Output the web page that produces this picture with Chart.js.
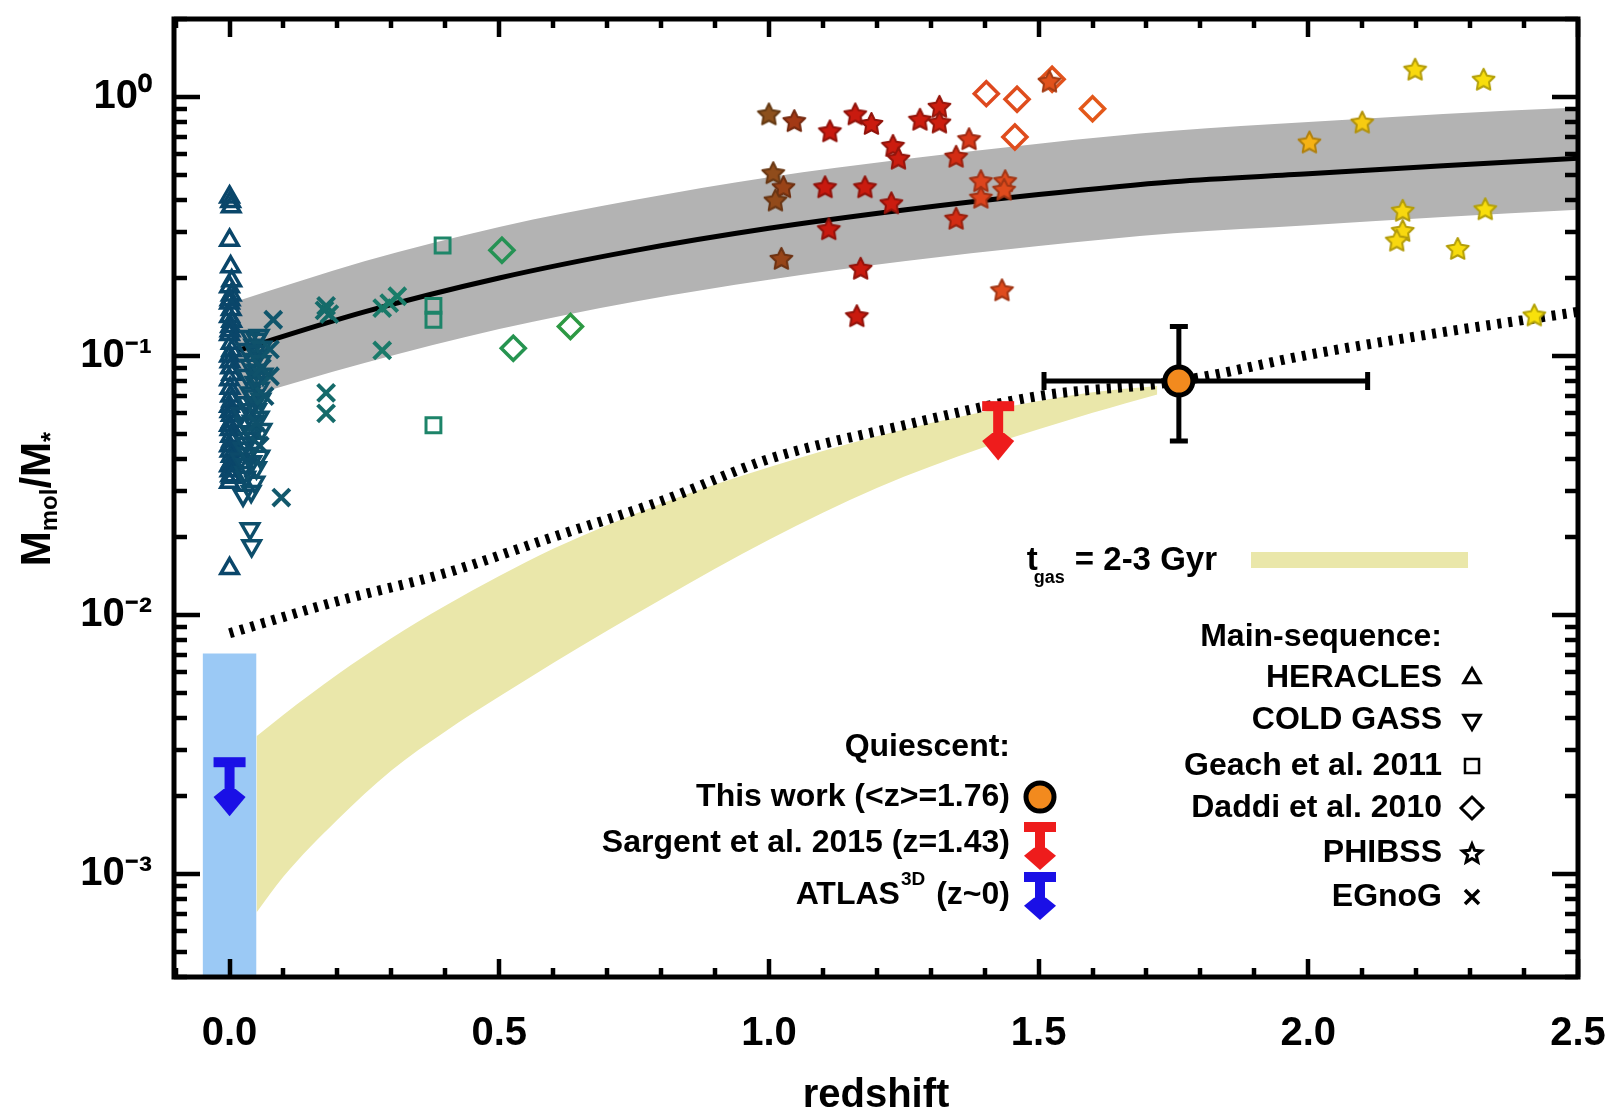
<!DOCTYPE html>
<html><head><meta charset="utf-8"><title>Mmol/M* versus redshift</title>
<script src="https://cdn.jsdelivr.net/npm/chart.js@4.4.1/dist/chart.umd.min.js"></script>
<style>html,body{margin:0;padding:0;background:#fff;}canvas{display:block;}</style>
</head><body>
<canvas id="chart" width="1616" height="1112"></canvas>
<script>
// ---------------- data ----------------
const xTickValues = [0, 0.5, 1.0, 1.5, 2.0, 2.5];
const xTickLabels = ['0.0', '0.5', '1.0', '1.5', '2.0', '2.5'];
const yTickValues = [0.001, 0.01, 0.1, 1];
const yTickLabels = ['10\u207B\u00B3', '10\u207B\u00B2', '10\u207B\u00B9', '10\u2070'];

// Main-sequence samples (z, Mmol/M*)
const heraclesZ = [0.000,0.003,0.000,0.002,0.000,0.003,0.000,0.003,0.000,0.002,0.000,0.003,0.000,0.002,0.000,0.002,0.000,0.003,0.000,0.002,0.000,0.003,0.000,0.002,0.000,0.000,0.002,
                   0.004,0.001,0.004,0.001,0.004,0.001,0.004,0.001,0.004,0.001,0.004,0.001,0.004,0.001,0.004,0.001,0.004];
const heraclesF = [0.411,0.377,0.280,0.221,0.185,0.172,0.160,0.151,0.142,0.130,0.121,0.112,0.100,0.090,0.081,0.070,0.064,0.059,0.054,0.049,0.045,0.041,0.0377,0.0345,0.0325,0.0151,0.395,
                   0.195,0.165,0.136,0.125,0.105,0.095,0.085,0.075,0.067,0.061,0.056,0.052,0.047,0.043,0.039,0.036,0.034];

const coldGassZ = [0.038,0.050,0.032,0.043,0.038,0.032,0.047,0.038,0.032,0.022,0.028,0.038,0.047,0.025,0.056,0.041,0.028,0.047,0.025,0.038,0.041,0.045,0.052,0.050,0.055,0.045,0.055,0.060,0.035,0.050,0.030,
                   0.055,0.060,0.048,0.058,0.062,0.050,0.045,0.058,0.050,0.042,0.035,0.043,0.030,0.020,0.033,0.040,0.030];
const coldGassF = [0.119,0.116,0.106,0.097,0.092,0.084,0.079,0.072,0.066,0.060,0.055,0.051,0.046,0.044,0.041,0.039,0.0355,0.0325,0.029,0.0215,0.0185,0.110,0.100,0.088,0.075,0.065,0.058,0.052,0.048,0.037,0.034,
                   0.120,0.108,0.104,0.095,0.085,0.082,0.070,0.068,0.062,0.056,0.062,0.050,0.046,0.040,0.042,0.030,0.038];

const egnogZ = [0.081,0.075,0.075,0.065,0.056,0.096,0.179,0.185,0.176,0.179,0.179,0.283,0.296,0.311,0.283,0.060,0.050];
const egnogF = [0.138,0.106,0.0835,0.070,0.045,0.0284,0.156,0.145,0.150,0.072,0.060,0.153,0.160,0.170,0.105,0.090,0.055];

const geachZ = [0.395,0.378,0.378,0.378];
const geachF = [0.267,0.156,0.138,0.054];

const daddiZ = [0.505,0.526,0.632,1.403,1.460,1.600,1.456,1.525];
const daddiF = [0.256,0.107,0.130,1.03,0.98,0.90,0.70,1.17];

const phibssZ = [1.000,1.047,1.113,1.160,1.190,1.230,1.240,1.280,1.316,1.316,1.347,1.371,1.008,1.027,1.012,1.104,1.178,1.227,1.111,1.347,1.393,1.393,1.438,1.436,1.023,1.170,1.163,1.432,1.520,2.198,2.325,2.002,2.100,2.175,2.328,2.175,2.164,2.277,2.419];
const phibssF = [0.86,0.81,0.74,0.86,0.79,0.65,0.58,0.82,0.92,0.80,0.59,0.69,0.51,0.45,0.40,0.45,0.45,0.39,0.31,0.34,0.475,0.41,0.475,0.44,0.238,0.218,0.143,0.18,1.15,1.28,1.17,0.67,0.80,0.365,0.37,0.305,0.28,0.26,0.144];

// Main-sequence relation and its scatter (grey band)
const msZ     = [0.015, 0.25, 0.5, 0.75, 1.0, 1.25, 1.5, 1.75, 2.0, 2.25, 2.5];
const msF     = [0.105, 0.148, 0.200, 0.255, 0.311, 0.366, 0.420, 0.471, 0.505, 0.543, 0.580];
const msUpper = [0.163, 0.232, 0.315, 0.400, 0.490, 0.575, 0.660, 0.740, 0.800, 0.860, 0.910];
const msLower = [0.068, 0.094, 0.127, 0.162, 0.197, 0.232, 0.266, 0.298, 0.320, 0.344, 0.367];

// Dotted curve
const dotZ = [0.0, 0.2, 0.4, 0.6, 0.8, 1.0, 1.25, 1.5, 1.76, 2.0, 2.2, 2.5];
const dotF = [0.0085, 0.0113, 0.0145, 0.020, 0.0275, 0.040, 0.054, 0.070, 0.080, 0.101, 0.119, 0.148];

// t_gas = 2-3 Gyr band
const tgasZ     = [0.05, 0.1, 0.2, 0.3, 0.4, 0.5, 0.6, 0.8, 1.0, 1.2, 1.4, 1.6, 1.72];
const tgasUpper = [0.0034, 0.00412, 0.00589, 0.00813, 0.01084, 0.01413, 0.0180, 0.0269, 0.0372, 0.049, 0.061, 0.0724, 0.0766];
const tgasLower = [0.00071, 0.000977, 0.00162, 0.00251, 0.00355, 0.00484, 0.00653, 0.01148, 0.0195, 0.0309, 0.0445, 0.0603, 0.0710];

// ATLAS3D range box (z ~ 0)
const atlasBoxZ = [-0.05, 0.05];
const atlasBoxTop = 0.0071;

// Quiescent: this work (<z>=1.76) with error bars
const thisWorkZ = 1.76, thisWorkF = 0.080;
const thisWorkZRange = [1.51, 2.11];
const thisWorkFRange = [0.047, 0.130];

// Upper limits: Sargent et al. 2015 (z=1.43), ATLAS3D (z~0)
const limitNames = ['Sargent et al. 2015', 'ATLAS3D'];
const limitZ   = [1.425, 0.0];
const limitF   = [0.064, 0.0027];
const limitTip = [0.0395, 0.00167];

// ---------------- helpers ----------------
const FONT = '"Liberation Sans", Arial, Helvetica, sans-serif';
function zip(xs, ys) { const n = Math.min(xs.length, ys.length); const o = []; for (let i = 0; i < n; i++) o.push({x: xs[i], y: ys[i]}); return o; }

// colour code by redshift (style only)
const zStops = [
  [0.00, [10, 70, 106]], [0.10, [18, 90, 108]], [0.20, [22, 112, 105]], [0.40, [30, 135, 105]],
  [0.55, [40, 150, 75]], [0.70, [50, 155, 60]], [0.99, [135, 85, 30]], [1.05, [165, 55, 20]],
  [1.10, [200, 25, 15]], [1.32, [205, 30, 15]], [1.40, [222, 72, 30]], [1.65, [228, 92, 25]],
  [2.00, [245, 178, 20]], [2.15, [248, 215, 15]], [2.50, [248, 228, 10]]
];
function zRGB(z) {
  if (z <= zStops[0][0]) return zStops[0][1];
  for (let i = 1; i < zStops.length; i++) {
    if (z <= zStops[i][0]) {
      const a = zStops[i - 1], b = zStops[i], t = (z - a[0]) / (b[0] - a[0]);
      return a[1].map((v, k) => Math.round(v + (b[1][k] - v) * t));
    }
  }
  return zStops[zStops.length - 1][1];
}
function zColor(ctx) { const z = ctx && ctx.raw ? ctx.raw.x : 0; const c = zRGB(z); return `rgb(${c[0]},${c[1]},${c[2]})`; }

const starCache = {};
function starImage(fill, stroke, R) {
  const key = fill + '|' + stroke + '|' + R;
  if (starCache[key]) return starCache[key];
  const s = Math.ceil(R * 2 + 6);
  const cv = document.createElement('canvas'); cv.width = s; cv.height = s;
  const g = cv.getContext('2d');
  const cx = s / 2, cy = s / 2 + 1;
  g.beginPath();
  for (let i = 0; i < 10; i++) {
    const r = i % 2 === 0 ? R : R * 0.5;
    const a = -Math.PI / 2 + i * Math.PI / 5;
    const px = cx + r * Math.cos(a), py = cy + r * Math.sin(a);
    if (i) g.lineTo(px, py); else g.moveTo(px, py);
  }
  g.closePath();
  g.fillStyle = fill; g.fill();
  g.lineWidth = 2; g.lineJoin = 'round'; g.strokeStyle = stroke; g.stroke();
  starCache[key] = cv; return cv;
}
function starStyle(ctx) {
  const z = ctx && ctx.raw ? ctx.raw.x : 1.2;
  const c = zRGB(z);
  const fill = `rgb(${c[0]},${c[1]},${c[2]})`;
  const stroke = `rgb(${Math.round(c[0] * 0.72)},${Math.round(c[1] * 0.72)},${Math.round(c[2] * 0.72)})`;
  return starImage(fill, stroke, 11.5);
}

function drawLimitSymbol(c, x, yb, yt, color) {
  const head = yb + (yt - yb) * 0.55;
  c.fillStyle = color;
  c.fillRect(x - 16, yb - 5, 32, 10);
  c.fillRect(x - 5, yb, 10, head - yb + 2);
  c.beginPath();
  c.moveTo(x - 6, head - 3);
  c.lineTo(x - 16, head + 5);
  c.lineTo(x, yt);
  c.lineTo(x + 16, head + 5);
  c.lineTo(x + 6, head - 3);
  c.closePath();
  c.fill();
}

// ---------------- plugins ----------------
const errorBarPlugin = {
  id: 'errorBars',
  beforeDatasetDraw(chart, args) {
    if (args.index !== 0) return;
    const {ctx: c, scales: {x, y}} = chart;
    const px = x.getPixelForValue(thisWorkZ), py = y.getPixelForValue(thisWorkF);
    const x0 = x.getPixelForValue(thisWorkZRange[0]), x1 = x.getPixelForValue(thisWorkZRange[1]);
    const y0 = y.getPixelForValue(thisWorkFRange[0]), y1 = y.getPixelForValue(thisWorkFRange[1]);
    c.save(); c.strokeStyle = '#000'; c.lineWidth = 5; c.lineCap = 'butt';
    c.beginPath();
    c.moveTo(x0, py); c.lineTo(x1, py);
    c.moveTo(x0, py - 9); c.lineTo(x0, py + 9);
    c.moveTo(x1, py - 9); c.lineTo(x1, py + 9);
    c.moveTo(px, y0); c.lineTo(px, y1);
    c.moveTo(px - 9, y0); c.lineTo(px + 9, y0);
    c.moveTo(px - 9, y1); c.lineTo(px + 9, y1);
    c.stroke(); c.restore();
  }
};

const limitColors = ['#ee1c1c', '#1a10e6'];
const limitPlugin = {
  id: 'upperLimits',
  afterDatasetsDraw(chart) {
    const {ctx: c, scales: {x, y}} = chart;
    c.save();
    for (let i = 0; i < limitZ.length; i++) {
      drawLimitSymbol(c, x.getPixelForValue(limitZ[i]), y.getPixelForValue(limitF[i]), y.getPixelForValue(limitTip[i]), limitColors[i]);
    }
    c.restore();
  }
};

const framePlugin = {
  id: 'frame',
  afterDraw(chart) {
    const {ctx: c, chartArea: a, scales: {x, y}} = chart;
    c.save(); c.strokeStyle = '#000'; c.lineCap = 'butt'; c.lineWidth = 4.5;
    c.beginPath();
    for (let k = -1; k <= 25; k++) {
      const v = k / 10;
      if (v <= x.min || v > x.max) continue;
      const px = Math.round(x.getPixelForValue(v));
      const L = (k % 5 === 0) ? 18 : 9;
      c.moveTo(px, a.bottom); c.lineTo(px, a.bottom - L);
      c.moveTo(px, a.top); c.lineTo(px, a.top + L);
    }
    for (let e = -4; e <= 0; e++) {
      for (let m = 1; m <= 9; m++) {
        const v = m * Math.pow(10, e);
        if (v < y.min || v > y.max) continue;
        const py = Math.round(y.getPixelForValue(v));
        const L = m === 1 ? 26 : 13;
        c.moveTo(a.left, py); c.lineTo(a.left + L, py);
        c.moveTo(a.right, py); c.lineTo(a.right - L, py);
      }
    }
    c.stroke();
    c.lineWidth = 5;
    c.strokeRect(a.left, a.top, a.right - a.left, a.bottom - a.top);
    c.restore();
  }
};

function legendMarker(c, kind, x, y) {
  c.save(); c.strokeStyle = '#000'; c.fillStyle = '#000'; c.lineWidth = 3; c.lineJoin = 'miter';
  c.beginPath();
  if (kind === 'tri' || kind === 'itri') {
    const s = kind === 'tri' ? 1 : -1, r = 9.5;
    c.moveTo(x, y - s * r);
    c.lineTo(x + r * 0.866, y + s * r * 0.5);
    c.lineTo(x - r * 0.866, y + s * r * 0.5);
    c.closePath(); c.stroke();
  } else if (kind === 'sq') {
    c.lineWidth = 2.5; c.strokeRect(x - 7, y - 7, 14, 14);
  } else if (kind === 'dia') {
    c.moveTo(x, y - 11); c.lineTo(x + 11, y); c.lineTo(x, y + 11); c.lineTo(x - 11, y); c.closePath(); c.stroke();
  } else if (kind === 'star') {
    for (let i = 0; i < 10; i++) {
      const r = i % 2 === 0 ? 10 : 4.5; const a = -Math.PI / 2 + i * Math.PI / 5;
      if (i) c.lineTo(x + r * Math.cos(a), y + 1 + r * Math.sin(a)); else c.moveTo(x + r * Math.cos(a), y + 1 + r * Math.sin(a));
    }
    c.closePath(); c.lineWidth = 3; c.stroke();
  } else if (kind === 'x') {
    c.lineWidth = 3.5; c.moveTo(x - 7, y - 7); c.lineTo(x + 7, y + 7); c.moveTo(x + 7, y - 7); c.lineTo(x - 7, y + 7); c.stroke();
  }
  c.restore();
}

const decorPlugin = {
  id: 'decor',
  afterDraw(chart) {
    const c = chart.ctx;
    c.save();
    c.fillStyle = '#000';
    // y-axis title  M_mol / M_*
    c.save();
    c.translate(38, 499); c.rotate(-Math.PI / 2);
    c.textBaseline = 'alphabetic'; c.textAlign = 'left';
    const parts = [['M', 'bold 42px ' + FONT, 0], ['mol', 'bold 24px ' + FONT, 7], ['/M', 'bold 42px ' + FONT, 0], ['*', 'bold 26px ' + FONT, 9]];
    let tot = 0; parts.forEach(p => { c.font = p[1]; tot += c.measureText(p[0]).width; });
    let u = -tot / 2;
    parts.forEach(p => { c.font = p[1]; c.fillText(p[0], u, 12 + p[2]); u += c.measureText(p[0]).width; });
    c.restore();

    c.textAlign = 'right'; c.textBaseline = 'middle';
    // t_gas legend
    c.font = 'bold 33px ' + FONT;
    const eq = '= 2-3 Gyr';
    c.fillText(eq, 1217, 561);
    const wEq = c.measureText(eq).width;
    c.font = 'bold 18px ' + FONT;
    const gasRight = 1217 - wEq - 10;
    c.fillText('gas', gasRight, 578);
    const gasLeft = gasRight - c.measureText('gas').width;
    c.font = 'bold 33px ' + FONT;
    c.fillText('t', gasLeft + 4, 561);
    c.fillStyle = 'rgb(234,231,170)';
    c.fillRect(1251, 552, 217, 16);
    c.fillStyle = '#000';

    // Main-sequence legend
    c.font = 'bold 32px ' + FONT;
    const msRows = [['Main-sequence:', 637, null], ['HERACLES', 678, 'tri'], ['COLD GASS', 720, 'itri'], ['Geach et al. 2011', 766, 'sq'], ['Daddi et al. 2010', 808, 'dia'], ['PHIBSS', 853, 'star'], ['EGnoG', 897, 'x']];
    msRows.forEach(r => { c.fillText(r[0], 1442, r[1]); if (r[2]) legendMarker(c, r[2], 1472, r[1]); });

    // Quiescent legend
    c.fillText('Quiescent:', 1010, 747);
    c.fillText('This work (<z>=1.76)', 1010, 797);
    c.fillText('Sargent et al. 2015 (z=1.43)', 1010, 843);
    let xr = 1010;
    c.fillText('(z~0)', xr, 895); xr -= c.measureText('(z~0)').width + 11;
    c.font = 'bold 19px ' + FONT; c.fillText('3D', xr, 880); xr -= c.measureText('3D').width + 1;
    c.font = 'bold 32px ' + FONT; c.fillText('ATLAS', xr, 895);
    // symbols
    c.beginPath(); c.arc(1040, 797, 14, 0, Math.PI * 2); c.fillStyle = '#f28a1e'; c.fill();
    c.lineWidth = 5; c.strokeStyle = '#000'; c.stroke();
    drawLimitSymbol(c, 1040, 827, 870, limitColors[0]);
    drawLimitSymbol(c, 1040, 877, 920, limitColors[1]);
    c.restore();
  }
};

function noPad(s) { s.paddingLeft = 0; s.paddingRight = 0; s.paddingTop = 0; s.paddingBottom = 0; }

// ---------------- chart ----------------
const tickFont = {family: FONT, size: 40, weight: 'bold'};
const scatterBase = {type: 'scatter', showLine: false, borderColor: zColor, backgroundColor: 'rgba(0,0,0,0)', pointBorderColor: zColor, pointBackgroundColor: 'rgba(0,0,0,0)'};

new Chart(document.getElementById('chart'), {
  type: 'scatter',
  data: {
    datasets: [
      { label: 'This work (<z>=1.76)', type: 'scatter', data: [{x: thisWorkZ, y: thisWorkF}], order: 0,
        pointRadius: 14, pointBorderWidth: 5, pointBackgroundColor: '#f28a1e', pointBorderColor: '#000', backgroundColor: '#f28a1e', borderColor: '#000' },
      Object.assign({}, scatterBase, { label: 'PHIBSS', data: zip(phibssZ, phibssF), order: 1, pointStyle: starStyle, pointRadius: 11 }),
      Object.assign({}, scatterBase, { label: 'Daddi et al. 2010', data: zip(daddiZ, daddiF), order: 1, pointStyle: 'rectRot', pointRadius: 12, pointBorderWidth: 3.5 }),
      Object.assign({}, scatterBase, { label: 'Geach et al. 2011', data: zip(geachZ, geachF), order: 1, pointStyle: 'rect', pointRadius: 10.5, pointBorderWidth: 3 }),
      Object.assign({}, scatterBase, { label: 'EGnoG', data: zip(egnogZ, egnogF), order: 1, pointStyle: 'crossRot', pointRadius: 12, pointBorderWidth: 4 }),
      Object.assign({}, scatterBase, { label: 'COLD GASS', data: zip(coldGassZ, coldGassF), order: 2, pointStyle: 'triangle', pointRotation: 180, pointRadius: 10, pointBorderWidth: 3.5 }),
      Object.assign({}, scatterBase, { label: 'HERACLES', data: zip(heraclesZ, heraclesF), order: 2, pointStyle: 'triangle', pointRadius: 10, pointBorderWidth: 3.5 }),
      { label: 'Main-sequence relation', type: 'line', data: zip(msZ, msF), order: 5, borderColor: '#000', borderWidth: 5, pointRadius: 0, fill: false, cubicInterpolationMode: 'monotone' },
      { label: 'dotted', type: 'line', data: zip(dotZ, dotF), order: 6, borderColor: '#000', borderWidth: 10, borderDash: [4, 7], borderCapStyle: 'butt', pointRadius: 0, fill: false, cubicInterpolationMode: 'monotone' },
      { label: 'MS upper', type: 'line', data: zip(msZ, msUpper), order: 7, borderWidth: 0, borderColor: 'rgba(0,0,0,0)', pointRadius: 0, fill: '+1', backgroundColor: 'rgb(179,179,179)', cubicInterpolationMode: 'monotone' },
      { label: 'MS lower', type: 'line', data: zip(msZ, msLower), order: 7, borderWidth: 0, borderColor: 'rgba(0,0,0,0)', pointRadius: 0, fill: false, cubicInterpolationMode: 'monotone' },
      { label: 't_gas upper', type: 'line', data: zip(tgasZ, tgasUpper), order: 8, borderWidth: 0, borderColor: 'rgba(0,0,0,0)', pointRadius: 0, fill: '+1', backgroundColor: 'rgb(234,231,170)', cubicInterpolationMode: 'monotone' },
      { label: 't_gas lower', type: 'line', data: zip(tgasZ, tgasLower), order: 8, borderWidth: 0, borderColor: 'rgba(0,0,0,0)', pointRadius: 0, fill: false, cubicInterpolationMode: 'monotone' },
      { label: 'ATLAS3D box', type: 'line', data: atlasBoxZ.map(z => ({x: z, y: atlasBoxTop})), order: 9, borderWidth: 0, borderColor: 'rgba(0,0,0,0)', pointRadius: 0, fill: 'start', backgroundColor: 'rgb(155,201,245)' }
    ]
  },
  options: {
    responsive: false,
    devicePixelRatio: 1,
    animation: false,
    events: [],
    layout: { padding: { left: 0, right: 38, top: 15, bottom: 0 } },
    plugins: { legend: { display: false }, tooltip: { enabled: false } },
    scales: {
      x: {
        type: 'linear', min: -0.103, max: 2.5,
        afterBuildTicks: s => { s.ticks = xTickValues.map(v => ({value: v})); },
        afterFit: s => { s.height = 135; noPad(s); },
        ticks: { font: tickFont, color: '#000', padding: 33, maxRotation: 0, minRotation: 0, autoSkip: false,
                 callback: (v, i) => xTickLabels[i] },
        grid: { display: false, drawTicks: false },
        border: { display: false },
        title: { display: true, text: 'redshift', color: '#000', font: {family: FONT, size: 40, weight: 'bold', lineHeight: 1}, padding: {top: 0, bottom: -4} }
      },
      y: {
        type: 'logarithmic', min: 4e-4, max: 2.0,
        afterBuildTicks: s => { s.ticks = yTickValues.map(v => ({value: v})); },
        afterFit: s => { s.width = 174; noPad(s); },
        ticks: { font: tickFont, color: '#000', padding: 22, autoSkip: false,
                 callback: (v) => { const i = yTickValues.indexOf(v); return i >= 0 ? yTickLabels[i] : ''; } },
        grid: { display: false, drawTicks: false },
        border: { display: false }
      }
    }
  },
  plugins: [errorBarPlugin, limitPlugin, framePlugin, decorPlugin]
});
</script>
</body></html>
